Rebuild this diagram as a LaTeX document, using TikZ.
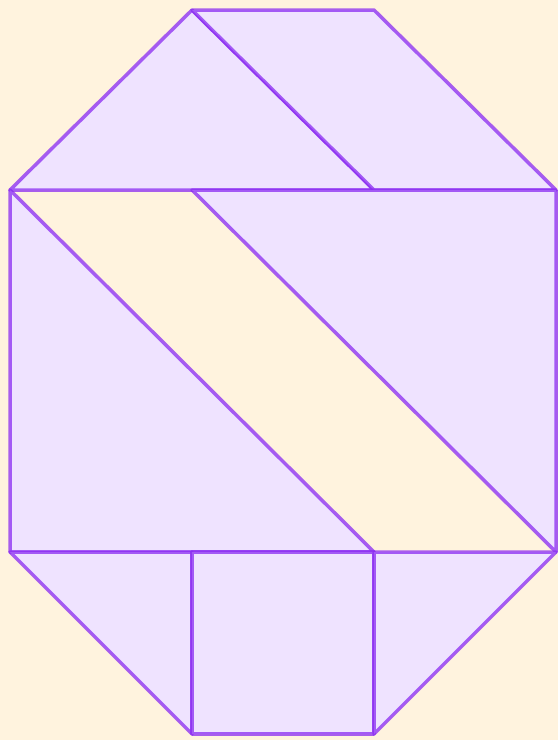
\documentclass[tikz,border=0pt]{standalone}
\definecolor{bgcream}{HTML}{FFF3DE}
\definecolor{piecefill}{HTML}{EFE3FF}
\definecolor{piecestroke}{HTML}{8A2BF2}
\begin{document}
\begin{tikzpicture}[x=1pt,y=-1pt,
  piece/.style={fill=piecefill,draw=piecestroke,draw opacity=0.75,line width=3.5pt,line join=round}]
\fill[bgcream] (0,0) rectangle (558,740);
\useasboundingbox (0,0) rectangle (558,740);
\coordinate (A) at (10,190);
\coordinate (B) at (192,10);
\coordinate (C) at (374,190);
\coordinate (D) at (374,10);
\coordinate (E) at (556,190);
\coordinate (F) at (192,190);
\coordinate (G) at (10,552);
\coordinate (H) at (374,552);
\coordinate (I) at (556,552);
\coordinate (J) at (192,552);
\coordinate (K) at (192,734);
\coordinate (L) at (374,734);
% top triangle
\draw[piece] (A) -- (B) -- (C) -- cycle;
% top parallelogram
\draw[piece] (B) -- (D) -- (E) -- (C) -- cycle;
% middle left triangle
\draw[piece] (A) -- (G) -- (H) -- cycle;
% middle right triangle
\draw[piece] (F) -- (E) -- (I) -- cycle;
% bottom left triangle
\draw[piece] (G) -- (J) -- (K) -- cycle;
% bottom square
\draw[piece] (J) -- (H) -- (L) -- (K) -- cycle;
% bottom right triangle
\draw[piece] (H) -- (I) -- (L) -- cycle;
\end{tikzpicture}
\end{document}
